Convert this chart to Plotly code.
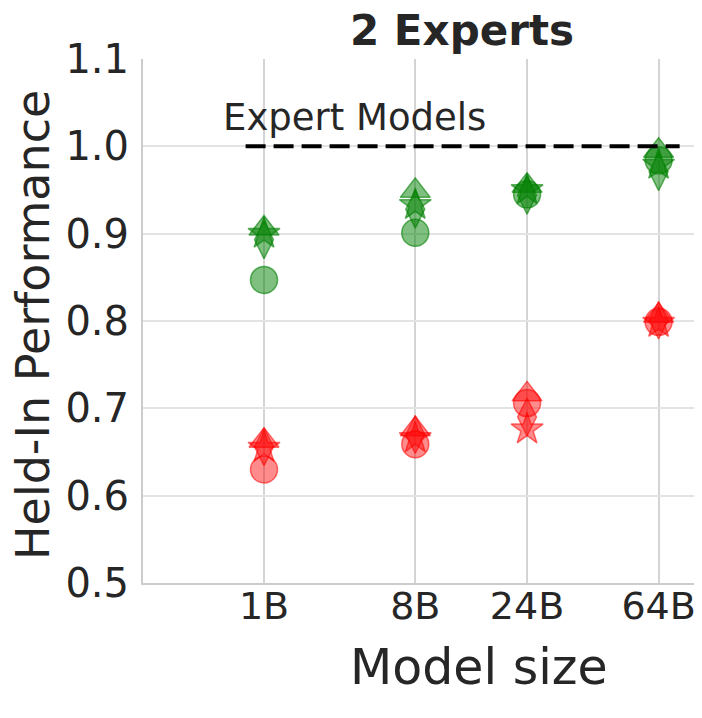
import plotly.graph_objects as go

model_sizes = ["1B", "8B", "24B", "64B"]
size_x = [1.0, 2.15, 3.0, 4.0]

green_circle = [0.847, 0.901, 0.945, 0.984]
green_triangle = [0.906, 0.949, 0.955, 0.995]
green_star = [0.900, 0.933, 0.950, 0.979]
green_diamond = [0.893, 0.928, 0.944, 0.971]

red_circle = [0.630, 0.659, 0.706, 0.799]
red_triangle = [0.663, 0.676, 0.716, 0.806]
red_star = [0.655, 0.666, 0.676, 0.798]
red_diamond = [0.656, 0.670, 0.690, 0.801]

expert_level = 1.0

GREEN = "rgba(0,128,0,0.5)"
GREEN_E = "rgba(0,128,0,0.6)"
RED = "rgba(255,0,0,0.45)"
RED_E = "rgba(255,0,0,0.55)"

series = [
    (green_circle, "circle", GREEN, GREEN_E, 27),
    (green_triangle, "triangle-up", GREEN, GREEN_E, 26),
    (green_star, "star", GREEN, GREEN_E, 24),
    (green_diamond, "diamond-tall", GREEN, GREEN_E, 27),
    (red_circle, "circle", RED, RED_E, 27),
    (red_triangle, "triangle-up", RED, RED_E, 26),
    (red_star, "star", RED, RED_E, 24),
    (red_diamond, "diamond-tall", RED, RED_E, 27),
]

fig = go.Figure()
for vals, sym, col, ecol, sz in series:
    fig.add_trace(go.Scatter(
        x=size_x, y=vals, mode="markers",
        marker=dict(symbol=sym, size=sz, color=col, line=dict(color=ecol, width=1.5)),
        showlegend=False,
    ))

fig.add_trace(go.Scatter(
    x=[0.86, 4.16], y=[expert_level, expert_level], mode="lines",
    line=dict(color="black", width=4, dash="20px,8px"), showlegend=False,
))

FONT = "DejaVu Sans"
OFF = 8              # page body margin
W, H = 702 - OFF, 718 - OFF
X0, X1 = 143, 702    # plot area in page px
Y0, Y1 = 59, 583
PW, PH = X1 - X0, Y1 - Y0
px_per_unit = (659 - 264) / 3.0

fig.update_layout(
    width=W, height=H,
    margin=dict(l=X0 - OFF, r=0, t=Y0 - OFF, b=H - (Y1 - OFF), autoexpand=False),
    plot_bgcolor="white", paper_bgcolor="white",
    font=dict(family=FONT, color="#262626", size=38),
    title=dict(text="<b>2 Experts</b>", x=(462 - X0) / PW, xref="paper",
               y=1 - (30 - OFF) / H, yref="container",
               yanchor="middle", xanchor="center", font=dict(size=42, color="#262626")),
    xaxis=dict(range=[0.08, 4.33], tickvals=size_x, ticktext=model_sizes,
               showgrid=True, gridcolor="#d4d4d4", gridwidth=2,
               showline=True, linecolor="#cccccc", linewidth=2,
               zeroline=False, ticks="", ticklabelstandoff=-12, automargin=False,
               tickfont=dict(size=38)),
    yaxis=dict(range=[0.5, 1.1], tickvals=[0.5, 0.6, 0.7, 0.8, 0.9, 1.0, 1.1],
               ticktext=["0.5", "0.6", "0.7", "0.8", "0.9", "1.0", "1.1"],
               showgrid=True, gridcolor="#e3e3e3", gridwidth=1.5,
               showline=True, linecolor="#cccccc", linewidth=2,
               zeroline=False, ticks="", ticklabelstandoff=4, automargin=False,
               tickfont=dict(size=40)),
    annotations=[
        dict(text="Expert Models", x=1 + (355 - 264) / px_per_unit, y=1.033,
             xref="x", yref="y", showarrow=False,
             font=dict(size=37), xanchor="center", yanchor="middle"),
        dict(text="Held-In Performance", x=(33 - X0) / PW, y=(Y1 - 325) / PH,
             xref="paper", yref="paper",
             showarrow=False, textangle=-90, font=dict(size=46), xanchor="center", yanchor="middle"),
        dict(text="Model size", x=(479 - X0) / PW, y=(Y1 - 667) / PH,
             xref="paper", yref="paper",
             showarrow=False, font=dict(size=49), xanchor="center", yanchor="middle"),
    ],
)

fig.write_html("out.html")
